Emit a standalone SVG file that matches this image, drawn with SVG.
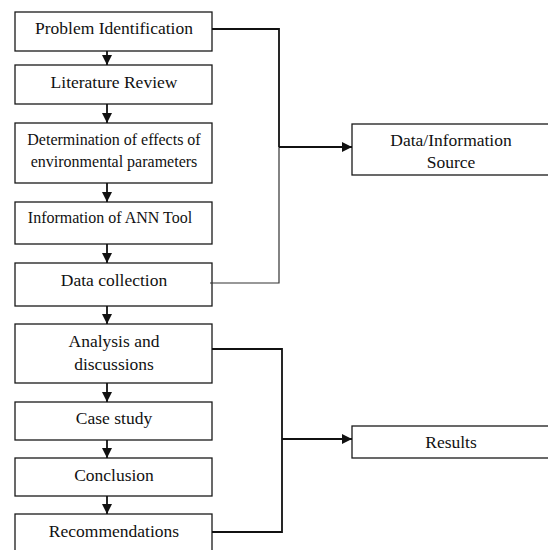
<svg xmlns="http://www.w3.org/2000/svg" width="548" height="550" viewBox="0 0 548 550">
<defs>
<style>
.box{fill:#fff;stroke:#1a1a1a;stroke-width:1.3}
.t{font-family:"Liberation Serif","Times New Roman",serif;font-size:17.5px;fill:#111;text-anchor:middle}
.ts{font-size:16px}
.ln{fill:none;stroke:#111;stroke-width:1.8}
.thin{fill:none;stroke:#333;stroke-width:1.2}
</style>
<marker id="ah" viewBox="0 0 10 10" refX="10" refY="5" markerWidth="10" markerHeight="10" markerUnits="userSpaceOnUse" orient="auto">
<path d="M0,0 L10,5 L0,10 Z" fill="#111"/>
</marker>
</defs>
<rect width="548" height="550" fill="#fff"/>
<g id="n1"><rect class="box" x="15" y="12" width="197" height="39"/><text class="t" x="114" y="34">Problem Identification</text></g>
<g id="n2"><rect class="box" x="15" y="65" width="197" height="39"/><text class="t" x="114" y="88">Literature Review</text></g>
<g id="n3"><rect class="box" x="15" y="123" width="197" height="60"/><text class="t ts" x="114" y="145">Determination of effects of</text><text class="t ts" x="114" y="167">environmental parameters</text></g>
<g id="n4"><rect class="box" x="15" y="202" width="197" height="42"/><text class="t ts" x="110" y="223">Information of ANN Tool</text></g>
<g id="n5"><rect class="box" x="15" y="263" width="197" height="43"/><text class="t" x="114" y="286">Data collection</text></g>
<g id="n6"><rect class="box" x="15" y="324" width="197" height="59"/><text class="t" x="114" y="347">Analysis and</text><text class="t" x="114" y="370">discussions</text></g>
<g id="n7"><rect class="box" x="15" y="402" width="197" height="38"/><text class="t" x="114" y="424">Case study</text></g>
<g id="n8"><rect class="box" x="15" y="458" width="197" height="38"/><text class="t" x="114" y="481">Conclusion</text></g>
<g id="n9"><rect class="box" x="15" y="514" width="197" height="40"/><text class="t" x="114" y="537">Recommendations</text></g>
<g id="n10"><rect class="box" x="352" y="124" width="200" height="51"/><text class="t" x="451" y="146">Data/Information</text><text class="t" x="451" y="168">Source</text></g>
<g id="n11"><rect class="box" x="352" y="426" width="200" height="32"/><text class="t" x="451" y="448">Results</text></g>
<g id="connectors">
<line class="ln" x1="107" y1="51" x2="107" y2="65" marker-end="url(#ah)"/>
<line class="ln" x1="107" y1="104" x2="107" y2="123" marker-end="url(#ah)"/>
<line class="ln" x1="107" y1="183" x2="107" y2="202" marker-end="url(#ah)"/>
<line class="ln" x1="107" y1="244" x2="107" y2="263" marker-end="url(#ah)"/>
<line class="ln" x1="107" y1="306" x2="107" y2="324" marker-end="url(#ah)"/>
<line class="ln" x1="107" y1="383" x2="107" y2="402" marker-end="url(#ah)"/>
<line class="ln" x1="107" y1="440" x2="107" y2="458" marker-end="url(#ah)"/>
<line class="ln" x1="107" y1="496" x2="107" y2="514" marker-end="url(#ah)"/>
<path class="ln" d="M212,29 H279 V147"/>
<path class="thin" d="M279,147 V283 H210"/>
<line class="ln" x1="279" y1="147" x2="352" y2="147" marker-end="url(#ah)"/>
<path class="ln" d="M212,349 H282 V532 H212"/>
<line class="ln" x1="282" y1="439" x2="352" y2="439" marker-end="url(#ah)"/>
</g>
</svg>
